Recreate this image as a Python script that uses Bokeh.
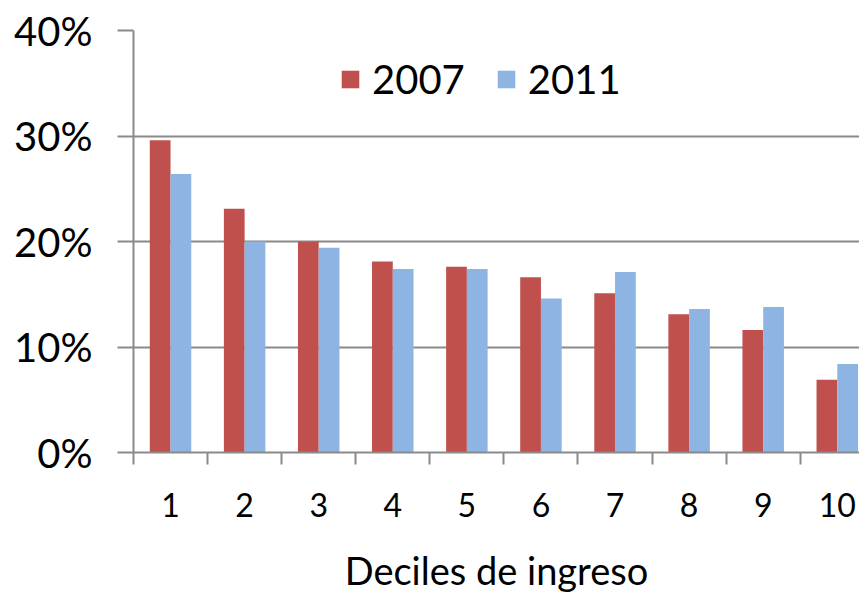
from bokeh.plotting import figure
from bokeh.models import (Range1d, FixedTicker, PrintfTickFormatter, Legend,
                          LegendItem, ColumnDataSource)
from bokeh.transform import dodge
from bokeh.embed import file_html
from bokeh.resources import INLINE

# ---- data ----
deciles = [1, 2, 3, 4, 5, 6, 7, 8, 9, 10]
decile_labels = ["1", "2", "3", "4", "5", "6", "7", "8", "9", "10"]
y2007 = [29.6, 23.1, 20.0, 18.1, 17.6, 16.6, 15.1, 13.1, 11.6, 6.9]
y2011 = [26.4, 20.0, 19.4, 17.4, 17.4, 14.6, 17.1, 13.6, 13.8, 8.4]
series_names = ["2007", "2011"]
y_ticks = [0, 10, 20, 30, 40]
x_title = "Deciles de ingreso"

RED = "#C0504D"
BLUE = "#8DB4E2"
GRID = "#8A8A8A"
FONT = "Lato"

src = ColumnDataSource(dict(x=deciles, a=y2007, b=y2011))

p = figure(width=859, height=595, output_backend="svg", toolbar_location=None,
           x_range=Range1d(0.5, 10.3), y_range=Range1d(0, 40),
           min_border_left=133, min_border_right=0, min_border_top=30,
           min_border_bottom=142, outline_line_color=None,
           background_fill_color="white", border_fill_color="white")

r1 = p.vbar(x=dodge("x", -0.14, range=p.x_range), top="a", width=0.28,
            source=src, fill_color=RED, line_color=None)
r2 = p.vbar(x=dodge("x", 0.14, range=p.x_range), top="b", width=0.28,
            source=src, fill_color=BLUE, line_color=None)

# x axis
xa = p.xaxis[0]
xa.ticker = FixedTicker(ticks=deciles, minor_ticks=[d - 0.5 for d in deciles] + [deciles[-1] + 0.5])
xa.major_label_overrides = {d: lab for d, lab in zip(deciles, decile_labels)}
xa.major_tick_out = 0
xa.major_tick_in = 0
xa.minor_tick_out = 12
xa.minor_tick_in = 0
xa.minor_tick_line_color = GRID
xa.minor_tick_line_width = 2
xa.axis_line_color = GRID
xa.axis_line_width = 2
xa.major_label_text_font = FONT
xa.major_label_text_font_size = "32px"
xa.major_label_text_color = "black"
xa.major_label_standoff = 28
xa.axis_label = x_title
xa.axis_label_text_font = FONT
xa.axis_label_text_font_size = "38px"
xa.axis_label_text_font_style = "normal"
xa.axis_label_text_color = "black"
xa.axis_label_standoff = 27

# y axis
ya = p.yaxis[0]
ya.ticker = FixedTicker(ticks=y_ticks, minor_ticks=[])
ya.formatter = PrintfTickFormatter(format="%d%%")
ya.major_tick_out = 16
ya.major_tick_in = 0
ya.major_tick_line_color = GRID
ya.major_tick_line_width = 2
ya.axis_line_color = GRID
ya.axis_line_width = 2
ya.major_label_text_font = FONT
ya.major_label_text_font_size = "40px"
ya.major_label_text_color = "black"
ya.major_label_standoff = 25

p.xgrid.visible = False
p.ygrid.ticker = FixedTicker(ticks=y_ticks)
p.ygrid.grid_line_color = GRID
p.ygrid.grid_line_width = 2

legend = Legend(items=[LegendItem(label=series_names[0], renderers=[r1]),
                       LegendItem(label=series_names[1], renderers=[r2])],
                location=(206, 349), orientation="horizontal",
                glyph_width=22, glyph_height=22, label_standoff=11, spacing=30,
                padding=0, margin=0, border_line_color=None,
                background_fill_alpha=0, label_text_font=FONT,
                label_text_font_size="40px", label_text_color="black")
p.add_layout(legend)

open("out.html", "w").write(file_html(p, INLINE))
